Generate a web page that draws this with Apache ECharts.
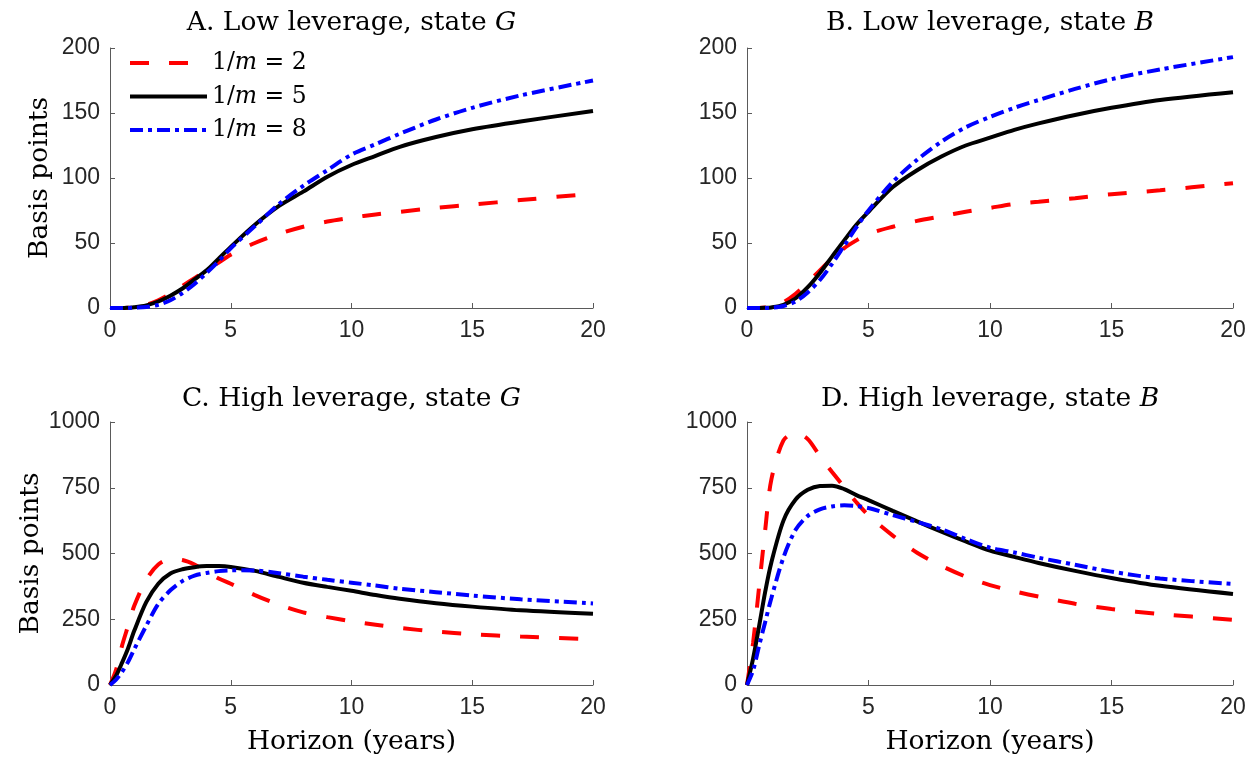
<!DOCTYPE html>
<html>
<head>
<meta charset="utf-8">
<script src="https://cdn.jsdelivr.net/npm/echarts@6/dist/echarts.min.js"></script>
<style>
  html, body { margin: 0; padding: 0; background: #fff; }
  #chart { width: 1251px; height: 758px; }
</style>
</head>
<body>
<div id="chart"></div>
<script>
// horizon (years) shared by every curve
const horizon = [0, 0.25, 0.5, 0.75, 1, 1.5, 2, 2.5, 3, 3.5, 4, 4.5, 5, 6, 7, 8, 9, 10, 11, 12, 13.5, 15, 17, 20];

// A. Low leverage, state G (basis points)
const lowG_m2 = [0, 0, 0, 0.2, 0.6, 2.5, 6, 11, 17, 23, 29, 35, 41, 50, 57, 62.5, 66.5, 69.5, 72, 74, 77, 79.5, 83, 88];
const lowG_m5 = [0, 0, 0, 0.2, 0.5, 2, 5, 9.5, 15, 22, 29, 38, 47, 64, 78.5, 89.5, 101, 110, 117, 124, 131.5, 137.5, 143.5, 151.5];
const lowG_m8 = [0, 0, 0, 0, 0.2, 0.7, 2.5, 6, 11.5, 18.5, 27, 36, 46, 63, 80, 94, 106, 118, 126, 134, 145, 154, 163.5, 175];

// B. Low leverage, state B
const lowB_m2 = [0, 0, 0, 0.3, 1, 4.5, 11, 19.5, 29, 38, 46, 52, 57, 62.5, 67, 70.5, 74, 77, 80, 81.7, 84.5, 87.5, 90.5, 96];
const lowB_m5 = [0, 0, 0, 0.1, 0.4, 2.5, 7.5, 16, 27, 39.5, 52, 64, 74, 93, 106, 116.5, 125, 131, 137, 142, 148.5, 154, 160, 166];
const lowB_m8 = [0, 0, 0, 0, 0.2, 1.5, 5, 12, 21.5, 34, 48, 62, 75, 97, 114, 128, 139, 147, 154, 160, 168.5, 176, 183.5, 193];

// C. High leverage, state G
const highG_m2 = [0, 58, 150, 225, 300, 400, 458, 478, 475, 458, 432, 405, 385, 342, 305, 276, 258, 242, 229, 217, 203, 193, 184, 174];
const highG_m5 = [0, 35, 85, 140, 205, 315, 385, 424, 440, 448, 452, 452, 449, 434, 411, 389, 373, 358, 342, 328, 311, 298, 284, 271];
const highG_m8 = [0, 20, 50, 88, 135, 225, 308, 360, 395, 416, 426, 433, 436, 435, 425, 412, 400, 389, 378, 366, 353, 340, 326, 310];

// D. High leverage, state B
const highB_m2 = [0, 160, 375, 590, 780, 930, 958, 935, 870, 810, 752, 695, 645, 568, 503, 453, 412, 380, 356, 336, 309, 289, 270, 248];
const highB_m5 = [0, 100, 225, 355, 465, 625, 705, 742, 757, 758, 745, 722, 703, 662, 622, 583, 546, 511, 487, 464, 434, 407, 377, 346];
const highB_m8 = [0, 55, 150, 240, 330, 485, 590, 643, 668, 679, 683, 680, 673, 646, 620, 592, 555, 522, 504, 484, 457, 431, 405, 384];

const seriesNames = ['1/m = 2', '1/m = 5', '1/m = 8'];
const panelTitles = ['A. Low leverage, state {i|G}', 'B. Low leverage, state {i|B}',
                     'C. High leverage, state {i|G}', 'D. High leverage, state {i|B}'];
const xTicks = [0, 5, 10, 15, 20];
const lowTicks = [0, 50, 100, 150, 200];
const highTicks = [0, 250, 500, 750, 1000];

const panels = [
  [lowG_m2, lowG_m5, lowG_m8],
  [lowB_m2, lowB_m5, lowB_m8],
  [highG_m2, highG_m5, highG_m8],
  [highB_m2, highB_m5, highB_m8]
];

const serif = 'DejaVu Serif';
const sans = 'Liberation Sans';
const axisColor = '#5a5a5a';
const textColor = '#262626';
const labelSize = 26.5;

// grid boxes (px) for the 2x2 layout
const grids = [
  { left: 110, top: 48, width: 483, height: 260 },
  { left: 747, top: 48, width: 486, height: 260 },
  { left: 110, top: 422, width: 483, height: 263 },
  { left: 747, top: 422, width: 486, height: 263 }
];

const lineStyles = [
  { color: '#ff0000', width: 4, type: [19, 20] },
  { color: '#000000', width: 4, type: 'solid' },
  { color: '#0000ff', width: 4, type: [13, 5, 4, 5] }
];

const chart = echarts.init(document.getElementById('chart'));

const xAxes = grids.map((g, i) => ({
  type: 'value', gridIndex: i, min: xTicks[0], max: xTicks[xTicks.length - 1], interval: 5,
  name: i >= 2 ? 'Horizon (years)' : '', nameLocation: 'middle', nameGap: 44,
  nameTextStyle: { fontFamily: serif, fontSize: labelSize, color: '#000' },
  axisLine: { show: true, lineStyle: { color: axisColor, width: 1 } },
  axisTick: { show: true, inside: true, length: 5, lineStyle: { color: axisColor } },
  axisLabel: { fontFamily: sans, fontSize: 23, color: textColor, margin: 11, formatter: v => String(v) },
  splitLine: { show: false }
}));

const yAxes = grids.map((g, i) => {
  const ticks = i < 2 ? lowTicks : highTicks;
  return {
    type: 'value', gridIndex: i, min: ticks[0], max: ticks[ticks.length - 1], interval: ticks[1] - ticks[0],
    name: (i === 0 || i === 2) ? 'Basis points' : '', nameLocation: 'middle', nameRotate: 90,
    nameGap: i === 0 ? 56 : 65,
    nameTextStyle: { fontFamily: serif, fontSize: labelSize, color: '#000' },
    axisLine: { show: true, lineStyle: { color: axisColor, width: 1 } },
    axisTick: { show: true, inside: true, length: 5, lineStyle: { color: axisColor } },
    axisLabel: { fontFamily: sans, fontSize: 23, color: textColor, margin: 10, formatter: v => String(v) },
    splitLine: { show: false }
  };
});

const series = [];
panels.forEach((vals, p) => {
  vals.forEach((arr, k) => {
    series.push({
      name: seriesNames[k], type: 'line', xAxisIndex: p, yAxisIndex: p,
      data: horizon.map((x, j) => [x, arr[j]]),
      smooth: 0.3, showSymbol: false, symbol: 'none',
      lineStyle: lineStyles[k], itemStyle: { color: lineStyles[k].color },
      z: 2 + k, animation: false
    });
  });
});

const titles = panelTitles.map((t, i) => ({
  text: t,
  left: grids[i].left + grids[i].width / 2 - 5,
  top: i < 2 ? 5 : 381,
  textAlign: 'center',
  textStyle: {
    fontFamily: serif, fontSize: labelSize, fontWeight: 'normal', color: '#000',
    rich: { i: { fontFamily: serif, fontSize: labelSize, fontStyle: 'italic', color: '#000' } }
  }
}));

chart.setOption({
  animation: false,
  backgroundColor: '#fff',
  title: titles,
  grid: grids,
  xAxis: xAxes,
  yAxis: yAxes,
  legend: {
    data: seriesNames,
    orient: 'vertical', left: 123, top: 46,
    itemWidth: 77, itemHeight: 14, itemGap: 9.5,
    itemStyle: { opacity: 0 },
    lineStyle: { width: 4 },
    formatter: name => name.replace('m', '{i|m}'),
    textStyle: {
      fontFamily: serif, fontSize: 23.5, color: '#000',
      rich: { i: { fontFamily: serif, fontSize: 23.5, fontStyle: 'italic', color: '#000' } }
    },
    selectedMode: false
  },
  series: series
});
</script>
</body>
</html>
